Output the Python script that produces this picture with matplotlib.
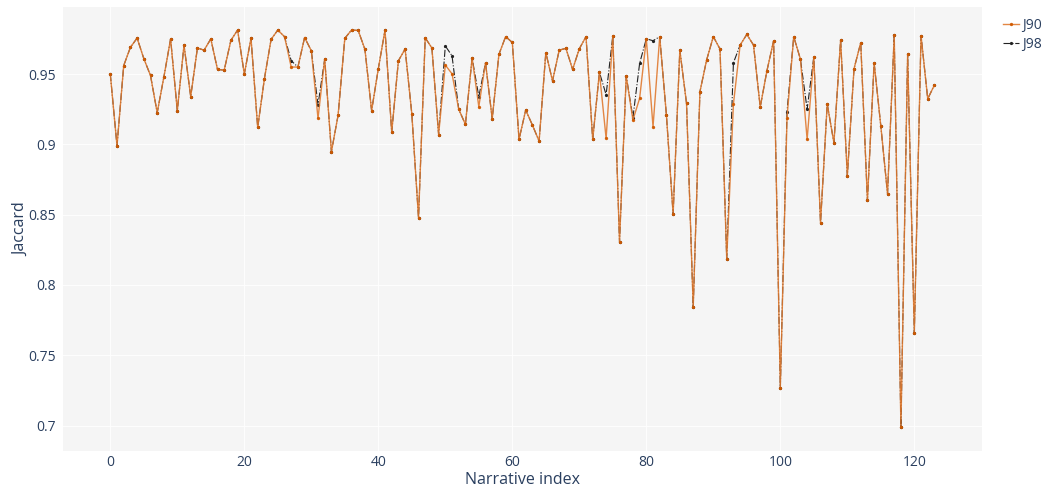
import numpy as np
import matplotlib.pyplot as plt
import matplotlib
from matplotlib.ticker import FuncFormatter

matplotlib.rcParams['font.family'] = ['Open Sans', 'DejaVu Sans']

idx = np.arange(124)

j90 = [0.950, 0.899, 0.956, 0.969, 0.9756, 0.961, 0.949, 0.9225, 0.948, 0.975,
       0.924, 0.9706, 0.934, 0.9685, 0.967, 0.975, 0.9533, 0.9528, 0.974, 0.9813,
       0.950, 0.9754, 0.912, 0.9467, 0.9747, 0.9813, 0.9766, 0.955, 0.955, 0.976,
       0.9666, 0.9185, 0.9607, 0.8947, 0.9208, 0.9754, 0.9813, 0.981, 0.9676, 0.924,
       0.9538, 0.9812, 0.9087, 0.9595, 0.9678, 0.9218, 0.8478, 0.9758, 0.9685, 0.907,
       0.9564, 0.9502, 0.925, 0.9142, 0.9614, 0.9268, 0.958, 0.9182, 0.964, 0.9766,
       0.9725, 0.9035, 0.9244, 0.9137, 0.9023, 0.9652, 0.9452, 0.967, 0.9683, 0.9533,
       0.968, 0.9766, 0.9035, 0.9512, 0.9042, 0.9773, 0.8307, 0.9486, 0.9173, 0.9327,
       0.9751, 0.9125, 0.9766, 0.9208, 0.8504, 0.967, 0.9292, 0.784, 0.9374, 0.960,
       0.9766, 0.9678, 0.8187, 0.9287, 0.9706, 0.9782, 0.9706, 0.9265, 0.9523, 0.9737,
       0.7269, 0.9189, 0.9766, 0.9606, 0.9035, 0.9623, 0.8442, 0.9287, 0.9011, 0.9742,
       0.8777, 0.9538, 0.9723, 0.8602, 0.958, 0.913, 0.8649, 0.9777, 0.6987, 0.964,
       0.766, 0.9773, 0.9324, 0.9422]

# J98 differs from J90 only at a few narratives
j98_diff = {27: 0.9595, 31: 0.928, 50: 0.970, 51: 0.963, 55: 0.9339, 74: 0.9353,
            78: 0.919, 79: 0.9576, 81: 0.9737, 93: 0.958, 101: 0.9232, 104: 0.9249}
j98 = [j98_diff.get(i, v) for i, v in enumerate(j90)]

fig = plt.figure(figsize=(10.52, 4.88), dpi=100)
ax = fig.add_axes([63/1052, 1-451/488, (982-63)/1052, (451-7)/488])
ax.set_facecolor('#f5f5f5')

ax.plot(idx, j98, color='#222222', lw=0.8, ls='-.', marker='o', ms=1.3,
        label='J98', zorder=2)
ax.plot(idx, j90, color='#e07a30', lw=1.0, alpha=0.9, marker='o', ms=1.4,
        mec='#d05a00', mfc='#d05a00', label='J90', zorder=3)

ax.set_xlim(-7.06, 130.1)
ax.set_ylim(0.6819, 0.9977)
ax.set_xticks(np.arange(0, 121, 20))
ax.set_yticks([0.7, 0.75, 0.8, 0.85, 0.9, 0.95])
ax.yaxis.set_major_formatter(FuncFormatter(lambda v, p: ('%g' % round(v, 2))))
ax.grid(True, color='white', lw=0.8, alpha=0.9)
ax.set_axisbelow(True)
for s in ax.spines.values():
    s.set_visible(False)
ax.tick_params(length=0, colors='#2a3f5f', labelsize=10)
ax.tick_params(axis='x', pad=3)
ax.tick_params(axis='y', pad=5)
ax.set_xlabel('Narrative index', color='#2a3f5f', fontsize=11.5)
ax.set_ylabel('Jaccard', color='#2a3f5f', fontsize=11.5)
ax.xaxis.set_label_coords(0.5, (451-480)/444)
ax.xaxis.label.set_va('center')
ax.yaxis.set_label_coords((21-63)/919, 0.5)
ax.yaxis.label.set_va('center')

h, l = ax.get_legend_handles_labels()
fig.legend(h[::-1], l[::-1], loc='upper left', bbox_to_anchor=(990/1052, 1-5/488),
           frameon=False, fontsize=10, handlelength=1.2, handletextpad=0.2,
           labelcolor='#2a3f5f', labelspacing=0.3)

fig.savefig('out.png', dpi=100)
